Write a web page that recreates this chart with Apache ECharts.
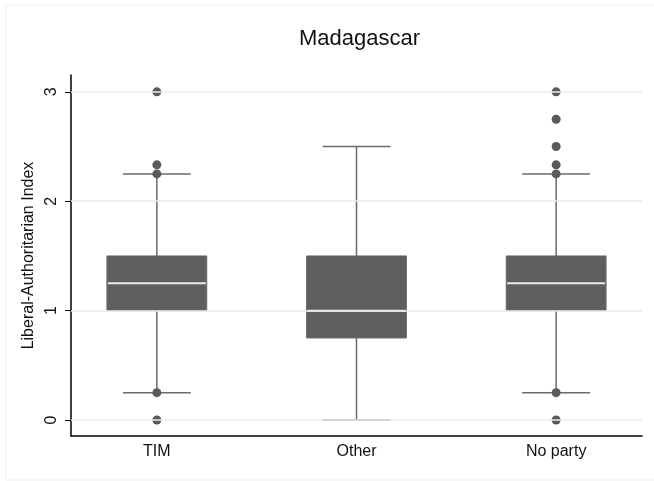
<!DOCTYPE html>
<html>
<head>
<meta charset="utf-8">
<script src="https://cdn.jsdelivr.net/npm/echarts@6/dist/echarts.min.js"></script>
<style>
  html, body { margin: 0; padding: 0; background: #fff; }
  #chart { width: 654px; height: 481px; }
</style>
</head>
<body>
<div id="chart"></div>
<script>
// Party groups along the x axis (placed at x = 1, 2, 3)
const categories = ['TIM', 'Other', 'No party'];

// Box statistics per group
const whiskerLow  = [0.25, 0.00, 0.25];
const quartile1   = [1.00, 0.75, 1.00];
const medians     = [1.25, 1.00, 1.25];
const quartile3   = [1.50, 1.50, 1.50];
const whiskerHigh = [2.25, 2.50, 2.25];

// Individual points drawn as dots
const outliersTIM     = [0, 0.25, 2.25, 2.333, 3];
const outliersOther   = [];
const outliersNoParty = [0, 0.25, 2.25, 2.333, 2.5, 2.75, 3];

// Y axis tick labels
const yTicks = [0, 1, 2, 3];

const boxData = categories.map((c, i) => [i + 1, whiskerLow[i], quartile1[i], medians[i], quartile3[i], whiskerHigh[i]]);
const outlierData = [];
[outliersTIM, outliersOther, outliersNoParty].forEach((arr, i) => {
  arr.forEach(v => outlierData.push([i + 1, v]));
});

const BOX_FILL = '#5e5e5e';
const WHISKER = '#6a6a6a';

function renderBox(params, api) {
  const x = api.value(0);
  const lo = api.coord([x, api.value(1)]);
  const q1 = api.coord([x, api.value(2)]);
  const md = api.coord([x, api.value(3)]);
  const q3 = api.coord([x, api.value(4)]);
  const hi = api.coord([x, api.value(5)]);
  const boxW = api.size([0.5, 0])[0];
  const capW = api.size([0.34, 0])[0];
  const cx = lo[0];
  const lineStyle = { stroke: WHISKER, lineWidth: 1.5 };
  return {
    type: 'group',
    children: [
      { type: 'line', shape: { x1: cx, y1: lo[1], x2: cx, y2: q1[1] }, style: lineStyle },
      { type: 'line', shape: { x1: cx, y1: q3[1], x2: cx, y2: hi[1] }, style: lineStyle },
      { type: 'line', shape: { x1: cx - capW / 2, y1: lo[1], x2: cx + capW / 2, y2: lo[1] }, style: lineStyle },
      { type: 'line', shape: { x1: cx - capW / 2, y1: hi[1], x2: cx + capW / 2, y2: hi[1] }, style: lineStyle },
      { type: 'rect', shape: { x: cx - boxW / 2, y: q3[1], width: boxW, height: q1[1] - q3[1] },
        style: { fill: BOX_FILL, stroke: '#6c6c6c', lineWidth: 1 } },
      { type: 'line', shape: { x1: cx - boxW / 2 + 1, y1: md[1], x2: cx + boxW / 2 - 1, y2: md[1] },
        style: { stroke: '#ececec', lineWidth: 2 } }
    ]
  };
}

const chart = echarts.init(document.getElementById('chart'), null, { renderer: 'canvas' });
chart.setOption({
  backgroundColor: '#ffffff',
  animation: false,
  textStyle: { fontFamily: 'Liberation Sans, Arial, sans-serif' },
  graphic: [{
    type: 'rect',
    shape: { x: 6, y: 5, width: 660, height: 475 },
    style: { fill: 'none', stroke: '#eeeeee', lineWidth: 1 },
    silent: true, z: -10
  }],
  title: {
    text: 'Madagascar',
    left: 294,
    top: 23,
    textStyle: { fontSize: 22, fontWeight: 'normal', color: '#111', fontFamily: 'Liberation Sans, Arial, sans-serif' }
  },
  grid: { left: 71, right: 12, top: 75, bottom: 45 },
  xAxis: {
    type: 'value',
    min: 0.57,
    max: 3.43,
    axisLine: { show: true, onZero: false, lineStyle: { color: '#000', width: 1.5 } },
    axisTick: { show: false },
    splitLine: { show: false },
    axisLabel: {
      customValues: [1, 2, 3],
      formatter: v => categories[Math.round(v) - 1] || '',
      fontSize: 16, color: '#111', margin: 8
    }
  },
  yAxis: {
    type: 'value',
    min: -0.146,
    max: 3.154,
    name: 'Liberal-Authoritarian Index',
    nameLocation: 'middle',
    nameGap: 30,
    nameTextStyle: { fontSize: 16, color: '#111' },
    axisLine: { show: true, onZero: false, lineStyle: { color: '#000', width: 1.5 } },
    axisTick: { show: true, customValues: yTicks, length: 6, lineStyle: { color: '#000', width: 1 } },
    splitLine: { show: false },
    axisLabel: {
      customValues: yTicks,
      rotate: 90,
      fontSize: 16, color: '#111', margin: 11,
      formatter: v => String(v)
    }
  },
  series: [
    {
      type: 'scatter',
      data: [],
      silent: true,
      markLine: {
        silent: true,
        symbol: 'none',
        label: { show: false },
        lineStyle: { color: '#ebebeb', width: 1.5, type: 'solid' },
        data: yTicks.map(v => ({ yAxis: v }))
      },
      z: 1
    },
    {
      type: 'custom',
      renderItem: renderBox,
      data: boxData,
      encode: { x: 0, y: [1, 2, 3, 4, 5] },
      z: 2
    },
    {
      type: 'scatter',
      data: outlierData,
      symbol: 'circle',
      symbolSize: 9,
      itemStyle: { color: '#5a5a5a', opacity: 1 },
      z: 3
    }
  ]
});
</script>
</body>
</html>
